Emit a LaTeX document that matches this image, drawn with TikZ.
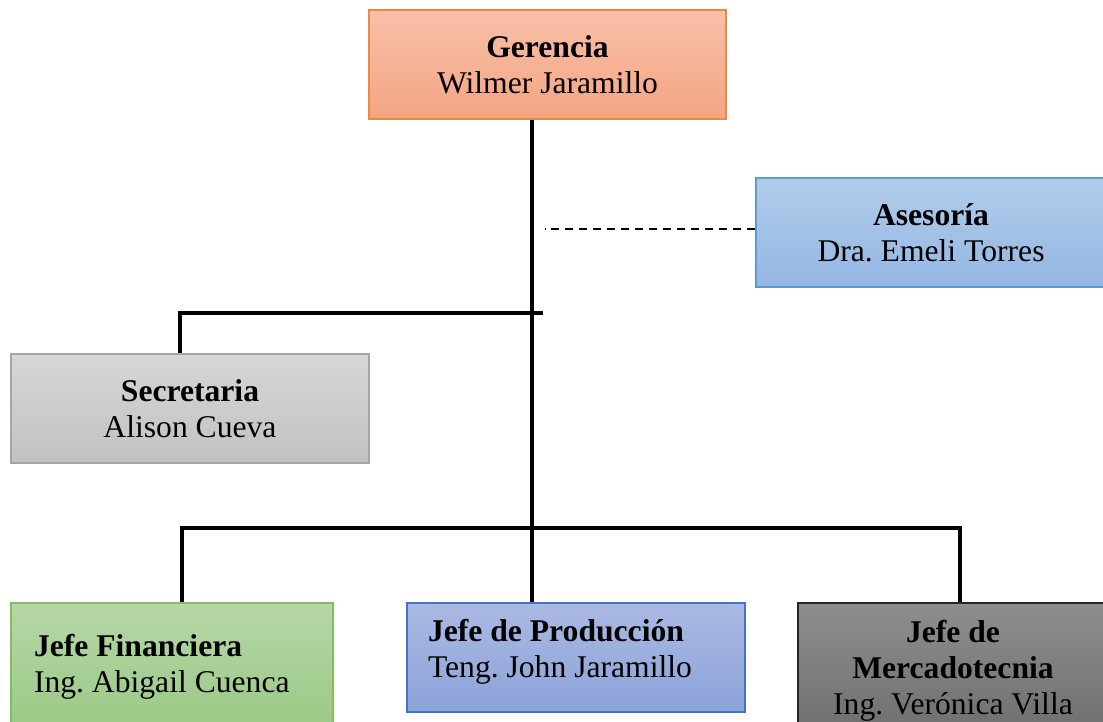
\documentclass[tikz,border=0pt]{standalone}
\usepackage{fontspec}
\setmainfont{Liberation Serif}
\usepackage{tikz}
\usetikzlibrary{positioning,calc}
\frenchspacing

\definecolor{gerTop}{HTML}{F8C0A8}
\definecolor{gerBot}{HTML}{F4A583}
\definecolor{gerLine}{HTML}{F0883E}
\definecolor{aseTop}{HTML}{B2CDEB}
\definecolor{aseBot}{HTML}{93B6E2}
\definecolor{aseLine}{HTML}{5B9BD5}
\definecolor{secTop}{HTML}{D6D6D6}
\definecolor{secBot}{HTML}{C2C2C2}
\definecolor{secLine}{HTML}{A5A5A5}
\definecolor{finTop}{HTML}{B6D7A8}
\definecolor{finBot}{HTML}{9BC985}
\definecolor{finLine}{HTML}{84BD5F}
\definecolor{prodTop}{HTML}{ABBAE3}
\definecolor{prodBot}{HTML}{8BA2D8}
\definecolor{prodLine}{HTML}{4472C4}
\definecolor{merTop}{HTML}{8E8E8E}
\definecolor{merBot}{HTML}{6E6E6E}
\definecolor{merLine}{HTML}{262626}

\tikzset{
  cargo/.style={rectangle, inner sep=0pt, line width=0.8pt, align=center,
    font=\fontsize{18}{20.5}\selectfont},
  enlace/.style={line width=2.3pt},
  asesor/.style={line width=0.8pt, dash pattern=on 0.16cm off 0.12cm}
}

\begin{document}
\begin{tikzpicture}[x=0.02cm,y=-0.02cm]
\clip (0,0) rectangle (1103,722);
\useasboundingbox (0,0) rectangle (1103,722);
\fill[white] (0,0) rectangle (1103,722);

\node[cargo, draw=gerLine, top color=gerTop, bottom color=gerBot,
  minimum width=7.14cm, minimum height=2.18cm] (ger) at (547.5,64.5)
  {\textbf{Gerencia}\\Wilmer Jaramillo};
\node[cargo, draw=aseLine, top color=aseTop, bottom color=aseBot,
  minimum width=7.0cm, minimum height=2.18cm] (ase) at (931,232.5)
  {\textbf{Asesoría}\\Dra. Emeli Torres};
\node[cargo, draw=secLine, top color=secTop, bottom color=secBot,
  minimum width=7.16cm, minimum height=2.18cm] (sec) at (190,408.5)
  {\textbf{Secretaria}\\Alison Cueva};
\node[cargo, draw=finLine, top color=finTop, bottom color=finBot, align=flush left,
  text width=5.52cm, minimum width=6.44cm, minimum height=2.54cm] (fin) at (172,666.5)
  {\textbf{Jefe Financiera}\\Ing. Abigail Cuenca};
\node[cargo, draw=prodLine, top color=prodTop, bottom color=prodBot, align=flush left,
  text width=5.92cm, minimum width=6.76cm, minimum height=2.18cm] (prod) at (576,657.5)
  {\textbf{Jefe de Producción}\\Teng. John Jaramillo\rule[-0.38cm]{0pt}{0pt}};
\node[cargo, draw=merLine, top color=merTop, bottom color=merBot,
  minimum width=6.2cm, minimum height=2.7cm] (mer) at (953,670.5)
  {\textbf{Jefe de}\\\textbf{Mercadotecnia}\\Ing. Verónica Villa};

\coordinate (t1) at (532,313);
\coordinate (t2) at (532,528);
\coordinate (b1) at (543,313);

\draw[enlace] (ger.south -| t1) -- (prod.north -| t1);
\draw[enlace] ([xshift=-0.2cm]sec.north) |- (b1);
\draw[enlace] ([xshift=0.2cm]fin.north) |- (t2) -| ([xshift=0.14cm]mer.north);
\draw[asesor] ([yshift=0.07cm]ase.west) -- ++(-210,0);
\end{tikzpicture}
\end{document}
